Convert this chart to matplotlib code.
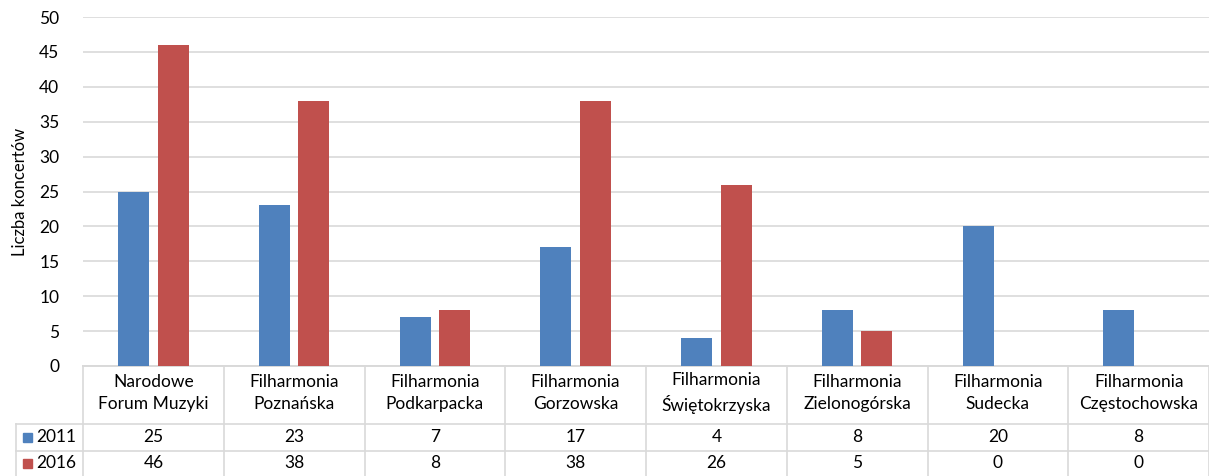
import matplotlib.pyplot as plt
import matplotlib.transforms as mtransforms
from matplotlib.patches import Rectangle
import numpy as np

plt.rcParams['font.family'] = ['Lato', 'DejaVu Sans']

# data
categories = ['Narodowe\nForum Muzyki', 'Filharmonia\nPoznańska', 'Filharmonia\nPodkarpacka',
              'Filharmonia\nGorzowska', 'Filharmonia\nŚwiętokrzyska', 'Filharmonia\nZielonogórska',
              'Filharmonia\nSudecka', 'Filharmonia\nCzęstochowska']
series_names = ['2011', '2016']
values_2011 = [25, 23, 7, 17, 4, 8, 20, 8]
values_2016 = [46, 38, 8, 38, 26, 5, 0, 0]
colors = ['#4F81BD', '#C0504D']
grid_col = '#D9D9D9'

fig = plt.figure(figsize=(12.09, 4.76), dpi=100)
ax = fig.add_axes([83 / 1209, 1 - 366 / 476, 1 - 83 / 1209, 349 / 476])

x = np.arange(len(categories))
w = 0.22
ax.bar(x - 0.141, values_2011, w, color=colors[0], zorder=3)
ax.bar(x + 0.141, values_2016, w, color=colors[1], zorder=3)

ax.set_xlim(-0.5, len(categories) - 0.5)
ax.set_ylim(0, 50)
ax.set_yticks(range(0, 51, 5))
ax.yaxis.grid(True, color=grid_col, linewidth=1.2, zorder=0)
for s in ['left', 'right', 'top']:
    ax.spines[s].set_visible(False)
ax.spines['bottom'].set_color(grid_col)
ax.spines['bottom'].set_linewidth(1.2)
ax.tick_params(axis='y', length=0, labelsize=12.5, pad=17, colors='#000000')
ax.set_xticks([])
ax.set_ylabel('Liczba koncertów', fontsize=12, labelpad=8)

# data table below the axis
trans = mtransforms.blended_transform_factory(ax.transData, ax.transAxes)
ah = 349.0
def yfrac(py):
    return -(py - 366) / ah

left_x = -0.976
y_hdr, y_r1, y_r2, y_end = yfrac(366), yfrac(424), yfrac(451), yfrac(480)
line_kw = dict(color=grid_col, linewidth=1.2, transform=trans, clip_on=False)

# horizontal lines
ax.plot([-0.5, len(categories) - 0.5], [y_hdr, y_hdr], **line_kw)
ax.plot([left_x, len(categories) - 0.5], [y_r1, y_r1], **line_kw)
ax.plot([left_x, len(categories) - 0.5], [y_r2, y_r2], **line_kw)
# vertical lines
for i in range(len(categories) + 1):
    ax.plot([i - 0.5, i - 0.5], [y_hdr, y_end], **line_kw)
ax.plot([left_x, left_x], [y_r1, y_end], **line_kw)

for i, cat in enumerate(categories):
    ax.text(i, yfrac(393), cat, transform=trans, ha='center', va='center',
            fontsize=12.5, linespacing=1.45)
    ax.text(i, yfrac(437), str(values_2011[i]), transform=trans,
            ha='center', va='center', fontsize=12.5)
    ax.text(i, yfrac(463), str(values_2016[i]), transform=trans,
            ha='center', va='center', fontsize=12.5)

for j, (name, yc_px) in enumerate(zip(series_names, [437, 463])):
    yc = yfrac(yc_px)
    sq = 9 / ah
    ax.add_patch(Rectangle((-0.927, yc - sq / 2), 9 / 140.7, sq, transform=trans,
                           color=colors[j], clip_on=False))
    ax.text(-0.83, yc, name, transform=trans, ha='left', va='center', fontsize=12.5)

fig.savefig('out.png', dpi=100)
